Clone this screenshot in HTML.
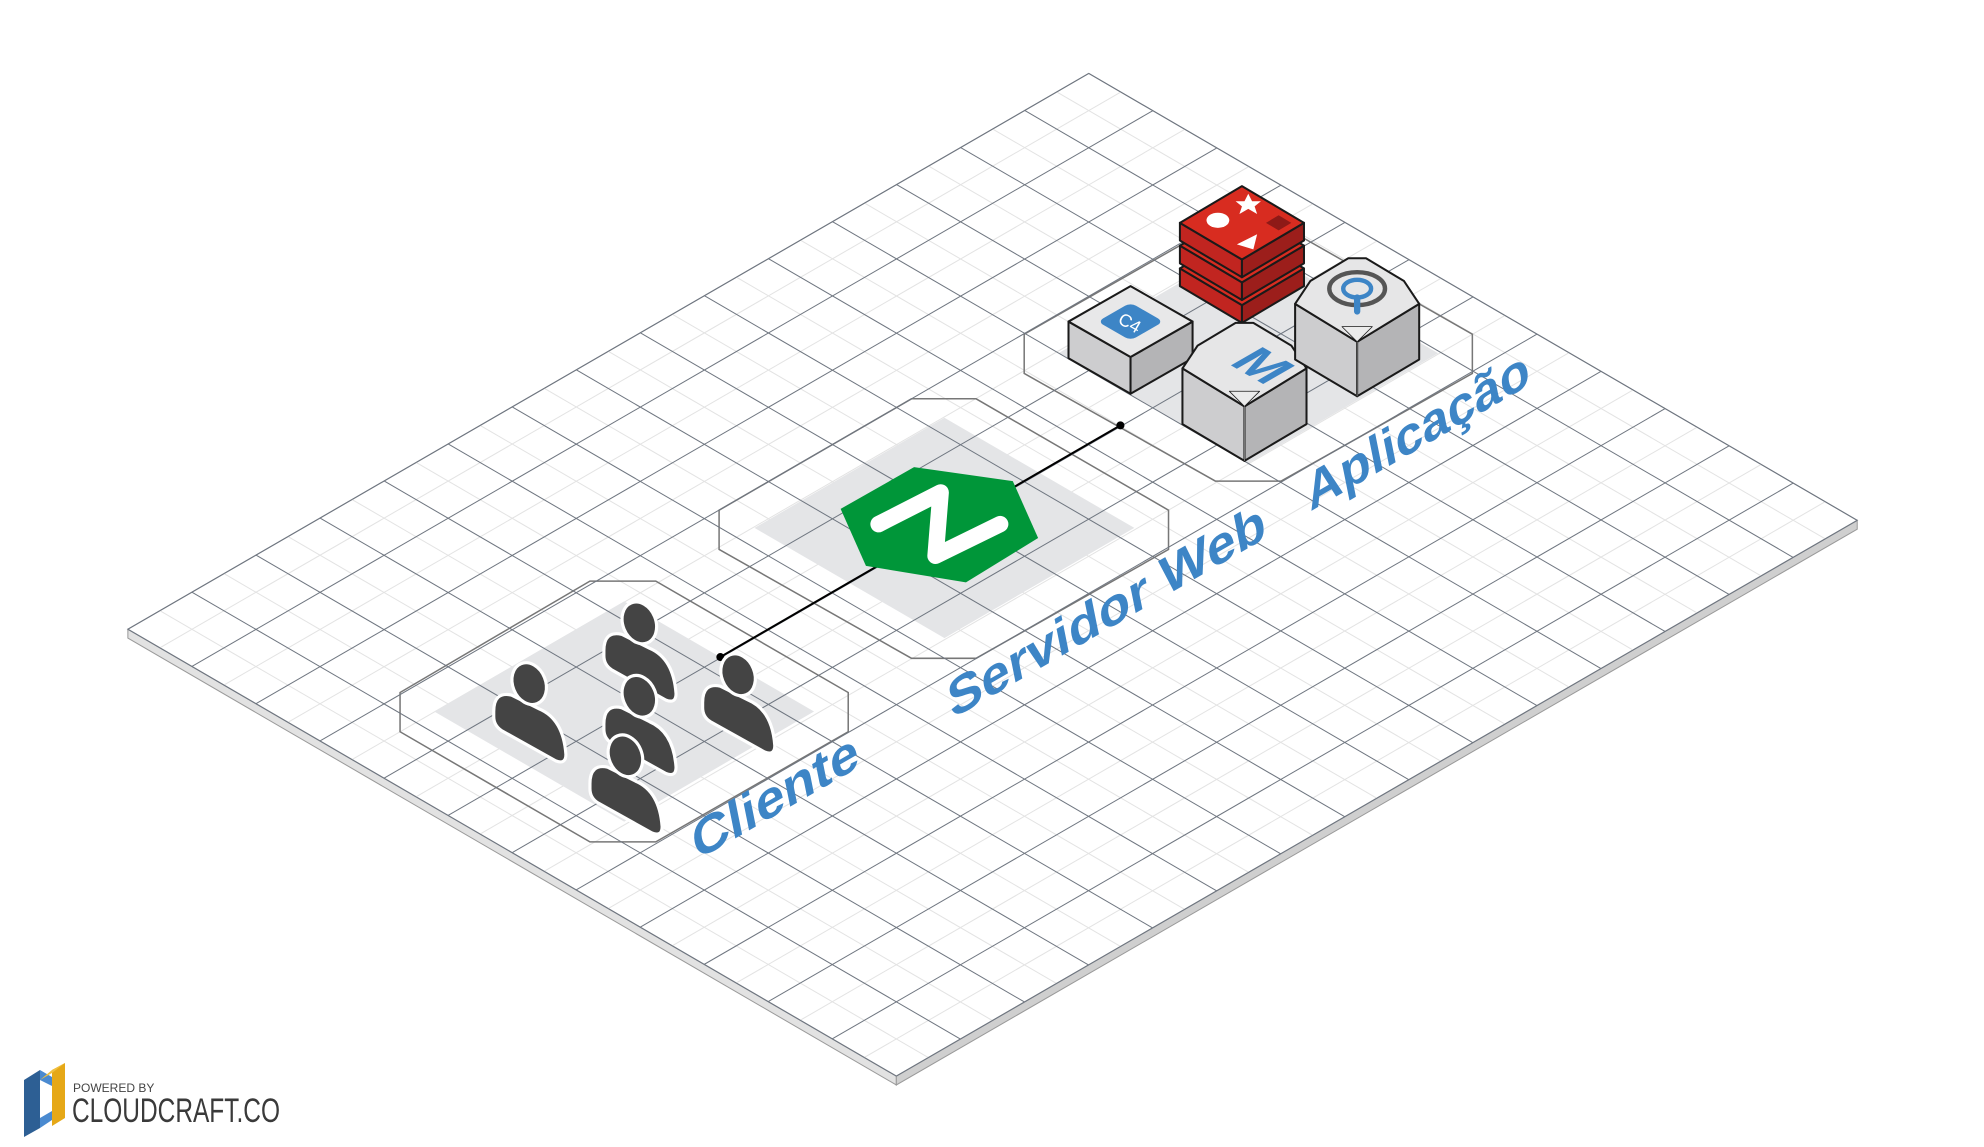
<!DOCTYPE html>
<html><head><meta charset="utf-8"><style>
html,body{margin:0;padding:0;background:#fff;}
svg{display:block;}
</style></head><body>
<svg id="s" width="1984" height="1147" viewBox="0 0 1984 1147" xmlns="http://www.w3.org/2000/svg">
<g transform="scale(1.266)">
  <polygon points="101,497 708,850 708,857 101,504" fill="#e2e2e2" stroke="#9a9a9a" stroke-width="0.8"/>
  <polygon points="708,850 1467,411 1467,418 708,857" fill="#cfcfcf" stroke="#9a9a9a" stroke-width="0.8"/>
  <polygon points="101,497 860,58 1467,411 708,850" fill="#fff" stroke="#8a8f96" stroke-width="0.9"/>
  <g id="grid"></g>

  <polygon points="343,562 493,475 643,562 493,649" fill="#e4e5e7"/>
  <polygon points="466,459 518,459 670,547 670,578 518,665 466,665 316,578 316,547" fill="none" stroke="#777" stroke-width="1.2"/>
  <polygon points="596,417 746,330 896,417 746,504" fill="#e4e5e7"/>
  <polygon points="720,315 771,315 923,403 923,434 771,520 720,520 568,434 568,403" fill="none" stroke="#777" stroke-width="1.2"/>
  <polygon points="836,279 986,192 1136,279 986,366" fill="#e4e5e7"/>
  <polygon points="960,178 1012,178 1163,264 1163,295 1012,380 960,380 809,295 809,264" fill="none" stroke="#777" stroke-width="1.2"/>

  <g id="gridover"></g>

  <line x1="569" y1="519" x2="885" y2="336" stroke="#000" stroke-width="1.6"/>
  <circle cx="569" cy="519" r="3.2" fill="#000"/>
  <circle cx="885" cy="336" r="3.2" fill="#000"/>

  <polygon points="722,369 800,380 820,425 763,460 684,447 664,402" fill="#009639"/>
  <polyline points="694,414 743,389 739,439 790,414" fill="none" stroke="#fff" stroke-width="13" stroke-linecap="round" stroke-linejoin="round"/>

  <g fill="#444" stroke="#fff" stroke-width="2.5" id="people"></g>

  <g fill="#3d85c6" font-family="Liberation Sans, sans-serif" font-weight="bold" font-size="40">
    <text transform="matrix(0.866,-0.5,0.2,1,550,680)" textLength="150" lengthAdjust="spacingAndGlyphs">Cliente</text>
    <text transform="matrix(0.866,-0.5,0.2,1,752,568)" textLength="288" lengthAdjust="spacingAndGlyphs">Servidor Web</text>
    <text transform="matrix(0.866,-0.5,0.2,1,1035,404)" textLength="202" lengthAdjust="spacingAndGlyphs">Aplicação</text>
  </g>

  <g stroke="#1a1a1a" stroke-width="1.6" stroke-linejoin="round">
    <polygon points="844,254 893,282 893,311 844,283" fill="#cdcdcf"/>
    <polygon points="893,282 942,254 942,283 893,311" fill="#b4b4b6"/>
    <polygon points="893,226 942,254 893,282 844,254" fill="#e8e8e9"/>
  </g>
  <g transform="matrix(0.866,0.5,-0.866,0.5,893,254)">
    <rect x="-15" y="-15" width="30" height="30" rx="5" fill="#3d85c6"/>
  </g>
  <text x="893" y="260" font-family="Liberation Sans, sans-serif" font-size="14" fill="#fff" text-anchor="middle" transform="rotate(30 893 254)">C4</text>

  <g id="redis" stroke="#1a1a1a" stroke-width="1.6" stroke-linejoin="round"></g>
  <g id="mprism"></g>
  <g id="tprism"></g>
</g>

<polygon points="24,1080 40,1070 40,1128 24,1137" fill="#2d5f94"/>
<polygon points="40,1070 52,1077 52,1086 40,1080" fill="#4a8ad0"/>
<polygon points="40,1118 52,1111 52,1120 40,1128" fill="#4a8ad0"/>
<polygon points="52,1070 65,1063 65,1118 52,1126" fill="#e6a817"/>
<polygon points="40,1080 52,1073 65,1063 52,1070" fill="#f0c040"/>
<text x="73" y="1092" font-family="Liberation Sans, sans-serif" font-size="12" fill="#444">POWERED BY</text>
<text x="72" y="1122" font-family="Liberation Sans, sans-serif" font-size="34" fill="#3a3a3a" textLength="208" lengthAdjust="spacingAndGlyphs">CLOUDCRAFT.CO</text>

<script>
(function(){
var NS="http://www.w3.org/2000/svg";
function el(t,a,p){var e=document.createElementNS(NS,t);for(var k in a)e.setAttribute(k,a[k]);p.appendChild(e);return e;}
var O=[101,497],u=[759/15,-439/15],v=[607/12,353/12];
function P(i,j){return [O[0]+i*u[0]+j*v[0],O[1]+i*u[1]+j*v[1]];}
var g=document.getElementById('grid'),go=document.getElementById('gridover');
function lines(par,major){
 for(var k=0;k<=30;k++){var i=k/2;if((k%2==0)!=major)continue;var a=P(i,0),b=P(i,12);
  el('line',{x1:a[0],y1:a[1],x2:b[0],y2:b[1],stroke:major?'#6f7680':'#e3e3e3','stroke-width':0.8},par);}
 for(var k=0;k<=24;k++){var j=k/2;if((k%2==0)!=major)continue;var a=P(0,j),b=P(15,j);
  el('line',{x1:a[0],y1:a[1],x2:b[0],y2:b[1],stroke:major?'#6f7680':'#e3e3e3','stroke-width':0.8},par);}
}
lines(g,false);lines(go,true);
var pp=document.getElementById('people');
function fig(hx,hy){
 el('path',{d:'M'+(hx-28)+','+(hy+22)+' Q'+(hx-28)+','+(hy+6)+' '+(hx-14)+','+(hy+9)+' L'+(hx+8)+','+(hy+20)+' Q'+(hx+27)+','+(hy+28)+' '+(hx+29)+','+(hy+56)+' Q'+(hx+29)+','+(hy+64)+' '+(hx+21)+','+(hy+61)+' L'+(hx-22)+','+(hy+37)+' Q'+(hx-28)+','+(hy+33)+' '+(hx-28)+','+(hy+26)+' Z'},pp);
 el('ellipse',{cx:hx,cy:hy,rx:13,ry:17,transform:'rotate(-22 '+hx+' '+hy+')'},pp);
}
fig(505,492);fig(418,540);fig(583,533);fig(505,550);fig(494,597);
var r=document.getElementById('redis');
var cols=['#d82c20','#c12520','#9c1e1b'];
for(var k=2;k>=0;k--){var d=18*k;
 el('polygon',{points:'932,'+(176+d)+' 981,'+(205+d)+' 981,'+(219+d)+' 932,'+(190+d),fill:cols[1]},r);
 el('polygon',{points:'981,'+(205+d)+' 1030,'+(176+d)+' 1030,'+(190+d)+' 981,'+(219+d),fill:cols[2]},r);
 el('polygon',{points:'981,'+(147+d)+' 1030,'+(176+d)+' 981,'+(205+d)+' 932,'+(176+d),fill:cols[0]},r);
}
el('ellipse',{cx:962,cy:174,rx:9,ry:6,fill:'#fff',stroke:'none'},r);
el('polygon',{points:'986,153 989,159 996,159 991,163 993,169 986,165 979,169 981,163 976,159 983,159',fill:'#fff',stroke:'none'},r);
el('polygon',{points:'977,193 993,185 990,197',fill:'#fff',stroke:'none'},r);
el('polygon',{points:'1000,176 1010,170 1020,176 1010,182',fill:'#8e1a17',stroke:'none'},r);
function prism(par,cx,ty){
 var g=el('g',{stroke:'#1a1a1a','stroke-width':1.6,'stroke-linejoin':'round'},par);
 var L=cx-49,R=cx+49;
 el('polygon',{points:L+','+(ty+36)+' '+cx+','+(ty+66)+' '+cx+','+(ty+109)+' '+L+','+(ty+80),fill:'#cdcdcf'},g);
 el('polygon',{points:cx+','+(ty+66)+' '+R+','+(ty+36)+' '+R+','+(ty+80)+' '+cx+','+(ty+109),fill:'#b4b4b6'},g);
 el('polygon',{points:(L)+','+(ty+36)+' '+(cx-37)+','+(ty+18)+' '+(cx-7)+','+ty+' '+(cx+7)+','+ty+' '+(cx+37)+','+(ty+18)+' '+R+','+(ty+36)+' '+cx+','+(ty+66),fill:'#e6e6e7'},g);
 el('polygon',{points:(cx-12)+','+(ty+54)+' '+(cx+12)+','+(ty+54)+' '+cx+','+(ty+66),fill:'#ebebeb','stroke-width':0.6},g);
 el('line',{x1:cx,y1:ty+66,x2:cx,y2:ty+109,stroke:'#777','stroke-width':0.8},g);
 return g;
}
var m=prism(document.getElementById('mprism'),983,255);
var t=el('text',{x:0,y:0,'font-family':'Liberation Sans, sans-serif','font-weight':'bold','font-size':42,fill:'#3d85c6',stroke:'none','text-anchor':'middle',transform:'matrix(0.866,0.5,-0.866,0.5,985,296)'},m);t.textContent='M';
var tp=prism(document.getElementById('tprism'),1072,204);
el('ellipse',{cx:1072,cy:228,rx:22,ry:13,fill:'none',stroke:'#555','stroke-width':3.5},tp);
el('ellipse',{cx:1072,cy:228,rx:11,ry:7,fill:'none',stroke:'#3d85c6','stroke-width':3.5},tp);
el('line',{x1:1072,y1:235,x2:1072,y2:246,stroke:'#3d85c6','stroke-width':5,'stroke-linecap':'round'},tp);
})();
</script>
</svg>
</body></html>
